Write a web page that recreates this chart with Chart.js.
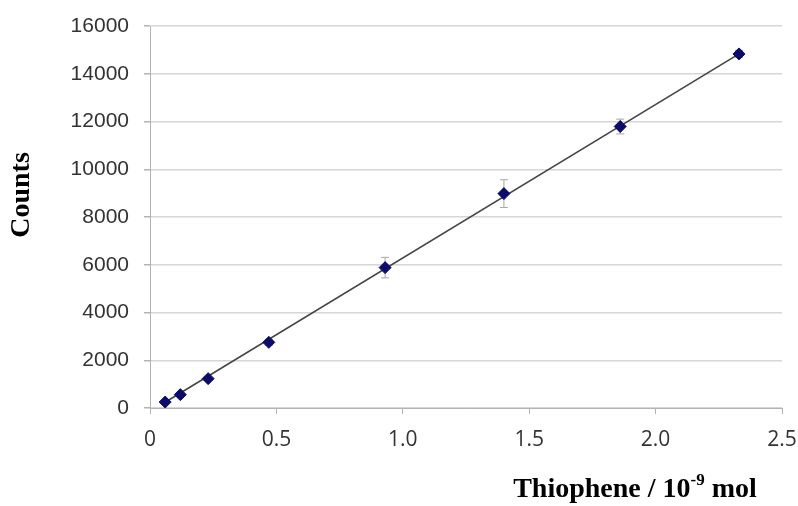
<!DOCTYPE html>
<html>
<head>
<meta charset="utf-8">
<script src="https://cdn.jsdelivr.net/npm/chart.js@4.4.1/dist/chart.umd.min.js"></script>
<style>
  html, body { margin: 0; padding: 0; background: #fff; }
  #wrap { width: 798px; height: 506px; }
</style>
</head>
<body>
<div id="wrap"><canvas id="calib" width="798" height="506"></canvas></div>
<script>
// thiophene amount (10^-9 mol) vs detector counts
const amounts = [0.06, 0.12, 0.23, 0.47, 0.93, 1.40, 1.86, 2.33];
const counts = [250, 560, 1230, 2750, 5880, 8980, 11790, 14830];
const errors = [40, 60, 80, 120, 430, 580, 310, 150];
const fitLine = [{ x: 0.05, y: 180 }, { x: 2.33, y: 14830 }];
const yTicks = [0, 2000, 4000, 6000, 8000, 10000, 12000, 14000, 16000];
const xTicks = [0, 0.5, 1.0, 1.5, 2.0, 2.5];

const points = amounts.map((a, i) => ({ x: a, y: counts[i] }));

// error bars, drawn under the markers
const errorBars = {
    id: 'errorBars',
    beforeDatasetsDraw(chart) {
        const { ctx, scales: { x, y } } = chart;
        ctx.save();
        ctx.strokeStyle = '#a6a6a6';
        ctx.lineWidth = 1;
        points.forEach((p, i) => {
            const px = x.getPixelForValue(p.x);
            const top = y.getPixelForValue(p.y + errors[i]);
            const bot = y.getPixelForValue(p.y - errors[i]);
            ctx.beginPath();
            ctx.moveTo(px, top); ctx.lineTo(px, bot);
            ctx.moveTo(px - 4, top); ctx.lineTo(px + 4, top);
            ctx.moveTo(px - 4, bot); ctx.lineTo(px + 4, bot);
            ctx.stroke();
        });
        ctx.restore();
    }
};

// axis titles in bold serif, x one has a superscript
const axisTitles = {
    id: 'axisTitles',
    afterDraw(chart) {
        const ctx = chart.ctx;
        ctx.save();
        ctx.fillStyle = '#000';
        ctx.font = 'bold 28px "Liberation Serif"';
        ctx.textBaseline = 'middle';
        ctx.textAlign = 'center';
        ctx.translate(22, 195);
        ctx.rotate(-Math.PI / 2);
        ctx.fillText('Counts', 0, 0);
        ctx.restore();

        ctx.save();
        ctx.fillStyle = '#000';
        ctx.textBaseline = 'alphabetic';
        ctx.textAlign = 'left';
        const big = 'bold 28px "Liberation Serif"';
        const small = 'bold 17px "Liberation Serif"';
        const a = 'Thiophene / 10', sup = '-9', b = ' mol';
        ctx.font = big;
        const wa = ctx.measureText(a).width, wb = ctx.measureText(b).width;
        ctx.font = small;
        const ws = ctx.measureText(sup).width;
        let xx = 635 - (wa + ws + wb) / 2;
        const base = 497;
        ctx.font = big; ctx.fillText(a, xx, base); xx += wa;
        ctx.font = small; ctx.fillText(sup, xx, base - 12); xx += ws;
        ctx.font = big; ctx.fillText(b, xx, base);
        ctx.restore();
    }
};

const whiteBg = {
    id: 'whiteBg',
    beforeDraw(chart) {
        const ctx = chart.ctx;
        ctx.save();
        ctx.fillStyle = '#fff';
        ctx.fillRect(0, 0, chart.width, chart.height);
        ctx.restore();
    }
};

new Chart(document.getElementById('calib'), {
    type: 'scatter',
    data: {
        datasets: [
            {
                data: points,
                pointStyle: 'rectRot',
                pointRadius: 6,
                pointBackgroundColor: '#0c0c6a',
                pointBorderColor: '#0c0c6a',
                pointBorderWidth: 1,
                showLine: false,
                order: 1
            },
            {
                data: fitLine,
                showLine: true,
                borderColor: '#454545',
                borderWidth: 1.6,
                pointRadius: 0,
                order: 2
            }
        ]
    },
    options: {
        responsive: false,
        animation: false,
        layout: { padding: { top: 26, right: 16, left: 0, bottom: 0 } },
        plugins: { legend: { display: false }, tooltip: { enabled: false } },
        scales: {
            x: {
                type: 'linear',
                min: 0, max: 2.5,
                afterBuildTicks: s => { s.ticks = xTicks.map(v => ({ value: v })); },
                afterFit: s => { s.height = 98; s.paddingLeft = 0; s.paddingRight = 0; },
                border: { color: '#b3b3b3', width: 1 },
                grid: { drawOnChartArea: false, drawTicks: true, tickLength: 6, tickColor: '#b3b3b3' },
                ticks: {
                    padding: 13,
                    color: '#333',
                    font: { family: '"Open Sans"', size: 21 },
                    callback: v => v === 0 ? '0' : v.toFixed(1)
                }
            },
            y: {
                type: 'linear',
                min: 0, max: 16000,
                afterBuildTicks: s => { s.ticks = yTicks.map(v => ({ value: v })); },
                afterFit: s => { s.width = 150; s.paddingTop = 0; s.paddingBottom = 0; },
                border: { color: '#b3b3b3', width: 1 },
                grid: { color: '#d6d6d6', lineWidth: 1.5, tickLength: 6, tickColor: '#b3b3b3' },
                ticks: {
                    padding: 15,
                    color: '#333',
                    font: { family: '"Liberation Sans"', size: 21 },
                    callback: v => String(v)
                }
            }
        }
    },
    plugins: [whiteBg, errorBars, axisTitles]
});
</script>
</body>
</html>
